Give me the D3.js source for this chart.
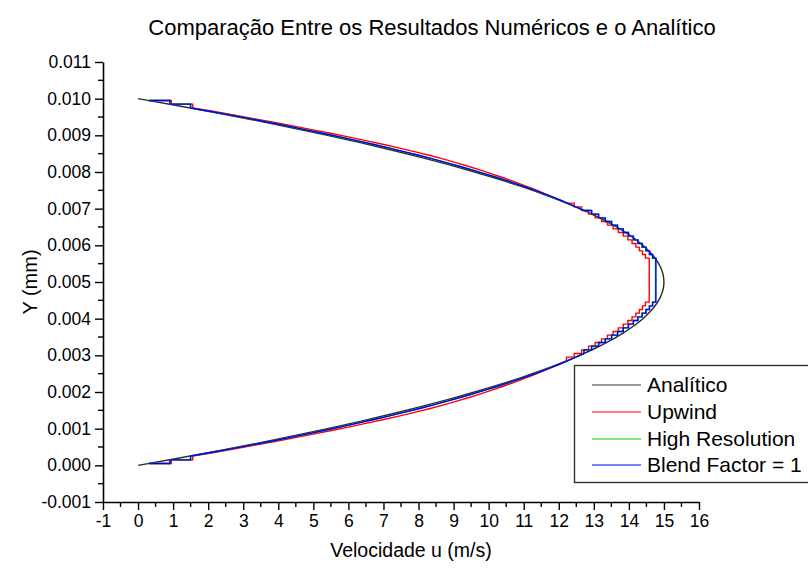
<!DOCTYPE html>
<html>
<head>
<meta charset="utf-8">
<script src="https://cdn.jsdelivr.net/npm/d3@7"></script>
<style>
  html, body { margin: 0; padding: 0; background: #fff; }
  svg { display: block; }
  text { font-family: "Liberation Sans", Arial, sans-serif; fill: #000; }
</style>
</head>
<body>
<div id="chart"></div>
<script>
// Axis ticks
const xTickValues = [-1, 0, 1, 2, 3, 4, 5, 6, 7, 8, 9, 10, 11, 12, 13, 14, 15, 16];
const yTickValues = [-0.001, 0.000, 0.001, 0.002, 0.003, 0.004, 0.005, 0.006, 0.007, 0.008, 0.009, 0.010, 0.011];

// Analytic profile, sampled every 0.0002 m across the channel
const analyticU = [
  0, 1.176, 2.304, 3.384, 4.416, 5.4, 6.336, 7.224, 8.064, 8.856,
  9.6, 10.296, 10.944, 11.544, 12.096, 12.6, 13.056, 13.464, 13.824, 14.136,
  14.4, 14.616, 14.784, 14.904, 14.976, 15,
  14.976, 14.904, 14.784, 14.616, 14.4, 14.136, 13.824, 13.464, 13.056, 12.6,
  12.096, 11.544, 10.944, 10.296, 9.6, 8.856, 8.064, 7.224, 6.336, 5.4,
  4.416, 3.384, 2.304, 1.176, 0
];
const analyticStep = 0.0002;

// Cell-centred numerical results (100 cells, 0.0001 m each)
const upwindU = [
  0.32, 0.95, 1.56, 2.17, 2.76, 3.34, 3.90, 4.45, 4.99, 5.52,
  6.03, 6.53, 7.01, 7.47, 7.91, 8.33, 8.72, 9.09, 9.44, 9.77,
  10.09, 10.40, 10.69, 10.97, 11.24, 11.50, 11.75, 11.99, 12.22, 12.44,
  12.65, 12.85, 13.04, 13.22, 13.39, 13.55, 13.70, 13.84, 13.97, 14.09,
  14.20, 14.30, 14.39, 14.47, 14.58, 14.58, 14.58, 14.58, 14.58, 14.58,
  14.58, 14.58, 14.58, 14.58, 14.58, 14.58, 14.47, 14.39, 14.30, 14.20,
  14.09, 13.97, 13.84, 13.70, 13.55, 13.39, 13.22, 13.04, 12.85, 12.65,
  12.44, 12.22, 11.99, 11.75, 11.50, 11.24, 10.97, 10.69, 10.40, 10.09,
  9.77, 9.44, 9.09, 8.72, 8.33, 7.91, 7.47, 7.01, 6.53, 6.03,
  5.52, 4.99, 4.45, 3.90, 3.34, 2.76, 2.17, 1.56, 0.95, 0.32
];
const highResU = [
  0.30, 0.90, 1.49, 2.07, 2.64, 3.20, 3.74, 4.27, 4.79, 5.29,
  5.78, 6.26, 6.72, 7.17, 7.60, 8.02, 8.42, 8.81, 9.18, 9.54,
  9.89, 10.23, 10.55, 10.86, 11.16, 11.45, 11.73, 11.99, 12.24, 12.48,
  12.71, 12.93, 13.13, 13.32, 13.50, 13.67, 13.83, 13.98, 14.12, 14.25,
  14.37, 14.48, 14.58, 14.67, 14.76, 14.76, 14.76, 14.76, 14.76, 14.76,
  14.76, 14.76, 14.76, 14.76, 14.76, 14.76, 14.67, 14.58, 14.48, 14.37,
  14.25, 14.12, 13.98, 13.83, 13.67, 13.50, 13.32, 13.13, 12.93, 12.71,
  12.48, 12.24, 11.99, 11.73, 11.45, 11.16, 10.86, 10.55, 10.23, 9.89,
  9.54, 9.18, 8.81, 8.42, 8.02, 7.60, 7.17, 6.72, 6.26, 5.78,
  5.29, 4.79, 4.27, 3.74, 3.20, 2.64, 2.07, 1.49, 0.90, 0.30
];
const blendU = [
  0.31, 0.91, 1.50, 2.08, 2.65, 3.21, 3.75, 4.28, 4.80, 5.30,
  5.79, 6.27, 6.73, 7.18, 7.61, 8.03, 8.43, 8.82, 9.19, 9.55,
  9.90, 10.24, 10.56, 10.87, 11.17, 11.46, 11.74, 12.00, 12.25, 12.49,
  12.72, 12.94, 13.14, 13.33, 13.51, 13.68, 13.84, 13.99, 14.13, 14.26,
  14.38, 14.49, 14.59, 14.68, 14.77, 14.77, 14.77, 14.77, 14.77, 14.77,
  14.77, 14.77, 14.77, 14.77, 14.77, 14.77, 14.68, 14.59, 14.49, 14.38,
  14.26, 14.13, 13.99, 13.84, 13.68, 13.51, 13.33, 13.14, 12.94, 12.72,
  12.49, 12.25, 12.00, 11.74, 11.46, 11.17, 10.87, 10.56, 10.24, 9.90,
  9.55, 9.19, 8.82, 8.43, 8.03, 7.61, 7.18, 6.73, 6.27, 5.79,
  5.30, 4.80, 4.28, 3.75, 3.21, 2.65, 2.08, 1.50, 0.91, 0.31
];
const cellSize = 0.0001;

const seriesNames = ["Analítico", "Upwind", "High Resolution", "Blend Factor = 1"];
const seriesColors = ["#333333", "#ff0000", "#00d000", "#0000ff"];

const W = 808, H = 569;
const plot = { left: 103, right: 699, top: 62, bottom: 502 };
const FONT = '"Liberation Sans", Arial, sans-serif';

const svg = d3.select("#chart").append("svg")
  .attr("width", W).attr("height", H);

const x = d3.scaleLinear().domain([-1, 16]).range([plot.left, plot.right]);
const y = d3.scaleLinear().domain([-0.001, 0.011]).range([plot.bottom, plot.top]);

// Analytic curve: smooth line through the samples
const analyticPts = analyticU.map((u, i) => [u, i * analyticStep]);
const smooth = d3.line().x(d => x(d[0])).y(d => y(d[1])).curve(d3.curveMonotoneY);

// Numerical curves: the wall cells and the slowly varying core are drawn as
// cell steps, the rest of the profile is joined point to point.
function cellPath(vals) {
  const n = vals.length;
  const px = vals.map(u => x(u));
  const py = vals.map((u, i) => y((i + 0.5) * cellSize));
  let d = `M${px[0]},${py[0]}`;
  for (let i = 1; i < n; i++) {
    const du = Math.abs(vals[i] - vals[i - 1]);
    if (i <= 2) d += `H${px[i]}V${py[i]}`;
    else if (i >= n - 2) d += `V${py[i]}H${px[i]}`;
    else if (du < 0.22) d += `V${py[i]}H${px[i]}`;
    else d += `L${px[i]},${py[i]}`;
  }
  return d;
}

const lines = svg.append("g").attr("fill", "none").attr("stroke-width", 1.4)
  .attr("stroke-linejoin", "miter");
lines.append("path").attr("d", smooth(analyticPts)).attr("stroke", "#2a2a2a");
lines.append("path").attr("d", cellPath(upwindU)).attr("stroke", seriesColors[1]);
lines.append("path").attr("d", cellPath(highResU)).attr("stroke", seriesColors[2]);
lines.append("path").attr("d", cellPath(blendU)).attr("stroke", seriesColors[3]);

// Axes
const hyphen = s => s.replace("\u2212", "-");
const xAxis = d3.axisBottom(x).tickValues(xTickValues).tickFormat(d => hyphen(String(d)))
  .tickSizeInner(8).tickSizeOuter(0).tickPadding(5);
const yAxis = d3.axisLeft(y).tickValues(yTickValues).tickFormat(d => hyphen(d3.format(".3f")(d)))
  .tickSizeInner(8).tickSizeOuter(0).tickPadding(4);

const gx = svg.append("g").attr("transform", `translate(0,${plot.bottom})`).call(xAxis);
const gy = svg.append("g").attr("transform", `translate(${plot.left},0)`).call(yAxis);

[gx, gy].forEach(g => {
  g.select(".domain").attr("stroke", "#000").attr("stroke-width", 1.6);
  g.selectAll(".tick line").attr("stroke", "#000").attr("stroke-width", 1.4);
  g.selectAll(".tick text")
    .style("font-family", FONT)
    .style("font-size", "17.5px").attr("fill", "#000");
});

// Minor ticks halfway between the labelled ones
const xMinor = xTickValues.slice(0, -1).map(v => v + 0.5);
const yMinor = yTickValues.slice(0, -1).map(v => v + 0.0005);
svg.append("g").selectAll("line").data(xMinor).join("line")
  .attr("x1", d => x(d)).attr("x2", d => x(d))
  .attr("y1", plot.bottom).attr("y2", plot.bottom + 5)
  .attr("stroke", "#000").attr("stroke-width", 1.4);
svg.append("g").selectAll("line").data(yMinor).join("line")
  .attr("x1", plot.left - 5).attr("x2", plot.left)
  .attr("y1", d => y(d)).attr("y2", d => y(d))
  .attr("stroke", "#000").attr("stroke-width", 1.4);

// Titles
svg.append("text").attr("x", 432).attr("y", 35).attr("text-anchor", "middle")
  .style("font-size", "22px").text("Comparação Entre os Resultados Numéricos e o Analítico");
svg.append("text").attr("x", 411).attr("y", 557).attr("text-anchor", "middle")
  .style("font-size", "19.5px").text("Velocidade u (m/s)");
svg.append("text").attr("transform", `translate(37,${(plot.top + plot.bottom) / 2}) rotate(-90)`)
  .attr("text-anchor", "middle").style("font-size", "20px").text("Y (mm)");

// Legend
const lg = svg.append("g");
lg.append("rect").attr("x", 574.5).attr("y", 365.5).attr("width", 245).attr("height", 117)
  .attr("fill", "#fff").attr("stroke", "#333").attr("stroke-width", 1.4);
const rowY = [385, 412, 439, 465];
seriesNames.forEach((name, i) => {
  lg.append("line").attr("x1", 592).attr("x2", 641).attr("y1", rowY[i]).attr("y2", rowY[i])
    .attr("stroke", seriesColors[i]).attr("stroke-width", 1);
  lg.append("text").attr("x", 647).attr("y", rowY[i]).attr("dy", "0.35em")
    .style("font-size", "21px").text(name);
});
</script>
</body>
</html>
